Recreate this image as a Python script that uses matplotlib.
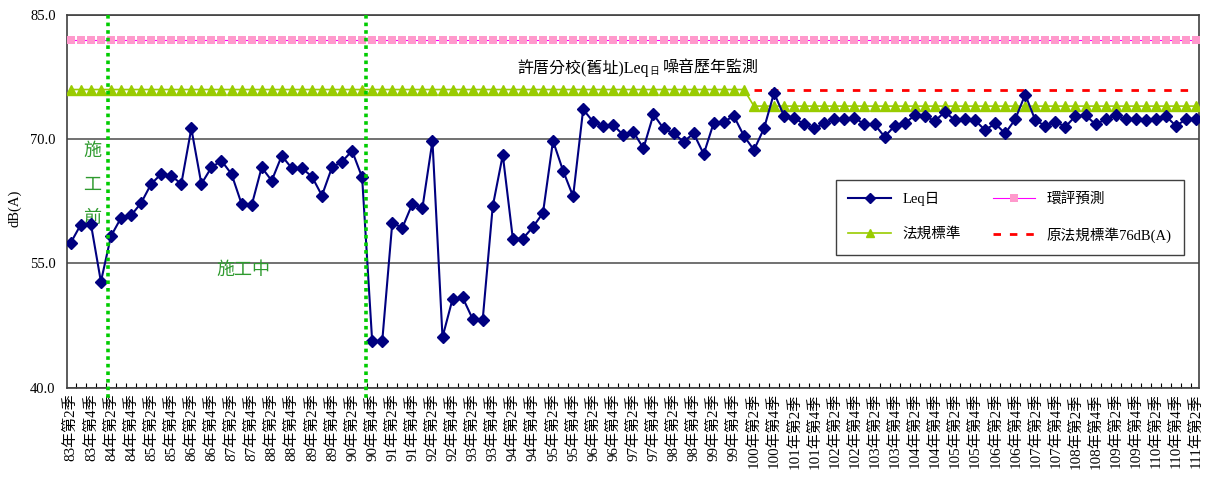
import matplotlib
matplotlib.use("Agg")
import matplotlib.pyplot as plt
from matplotlib.ticker import FixedLocator, FormatStrFormatter

plt.rcParams["font.family"] = ["Liberation Serif", "Noto Sans CJK TC"]

# quarters from 83Q2 to 111Q2
years = list(range(83, 112))
quarters = [f"{y}年第{q}季" for y in years for q in (1, 2, 3, 4)][1:-2]

leq_day = [
    57.5, 59.7, 59.8, 52.8, 58.3, 60.5, 60.8, 62.3, 64.6, 65.8,
    65.6, 64.6, 71.3, 64.6, 66.6, 67.4, 65.8, 62.2, 62.0, 66.6,
    65.0, 68.0, 66.5, 66.5, 65.5, 63.2, 66.6, 67.3, 68.6,
    65.4, 45.6, 45.6, 59.9, 59.3, 62.2, 61.7, 69.8, 46.1, 50.7,
    50.9, 48.3, 48.2, 61.9, 68.1, 58.0, 58.0, 59.4, 61.1, 69.8,
    66.2, 63.1, 73.6, 72.1, 71.6, 71.7, 70.5, 70.9, 68.9,
    73.0, 71.3, 70.7, 69.7, 70.7, 68.2, 72.0, 72.1, 72.8, 70.4,
    68.7, 71.3, 75.6, 72.8, 72.6, 71.8, 71.3, 71.9, 72.4, 72.4,
    72.6, 71.8, 71.8, 70.3, 71.6, 71.9, 72.9, 72.8,
    72.2, 73.3, 72.3, 72.4, 72.3, 71.1, 71.9, 70.7, 72.4, 75.4,
    72.3, 71.6, 72.1, 71.5, 72.8, 72.9, 71.8, 72.4, 72.9, 72.4,
    72.4, 72.3, 72.4, 72.8, 71.6, 72.4, 72.5,
]

# EIA prediction and noise standards (dB(A))
eia_level = 82.0
old_standard = 76.0
new_standard = 74.0
change_quarter = "100年第2季"   # standard lowered from here on

# construction phase markers (fractional category positions)
construction_start = 3.75
construction_mid = 29.4

# --------------------------------------------------------------------------------------
x = list(range(len(quarters)))
k = quarters.index(change_quarter)
eia = [eia_level for _ in x]
standard = [old_standard if i < k else new_standard for i in x]
old_x = x[k:]
old_std = [old_standard for _ in old_x]

fig = plt.figure(figsize=(12.07, 4.79), dpi=100)
ax = fig.add_axes([0.0553, 0.1906, 0.9381, 0.7781])

l_eia, = ax.plot(x, eia, color="#FF00FF", lw=0.8, marker="s", ms=6.4,
                 mfc="#FF99CC", mec="none", mew=0, label="環評預測", zorder=3)
l_std, = ax.plot(x, standard, color="#99CC00", lw=1.2, marker="^", ms=7.4,
                 mfc="#99CC00", mec="#99CC00", label="法規標準", zorder=3)
l_old, = ax.plot(old_x, old_std, color="#FF0000", lw=2.0, ls=(0, (2.7, 3.2)),
                 label="原法規標準76dB(A)", zorder=4)
l_leq, = ax.plot(x, leq_day, color="#000080", lw=1.5, marker="D", ms=5.9,
                 mfc="#000080", mec="#000080", label="Leq日", zorder=5)

for xv in (construction_start, construction_mid):
    ax.plot([xv, xv], [85, 38.5], color="#00CC00", lw=2.6, ls=(0, (1, 1.1)),
            clip_on=False, zorder=6)

ax.set_xlim(-0.4, len(quarters) - 0.7)
ax.set_ylim(40, 85)
ax.yaxis.set_major_locator(FixedLocator([40, 55, 70, 85]))
ax.yaxis.set_major_formatter(FormatStrFormatter("%.1f"))
ax.grid(axis="y", color="#666666", lw=1.3)
ax.set_axisbelow(True)

ax.set_xticks(x[::2])
ax.set_xticklabels(quarters[::2], rotation=90, fontsize=10.8, va="top")
ax.set_xticks([i + 0.5 for i in x[:-1]], minor=True)
ax.tick_params(axis="x", which="major", length=0, pad=4)
ax.tick_params(axis="x", which="minor", direction="in", length=3.6, width=0.8)
ax.tick_params(axis="y", length=0, pad=8, labelsize=10.5)
for s in ax.spines.values():
    s.set_color("#404040")
    s.set_linewidth(1.2)

fig.text(0.012, 0.566, "dB(A)", rotation=90, va="center", ha="center", fontsize=10.5)

green = "#2E9A2E"
for ch, yv in zip("施工前", (68.5, 64.4, 60.4)):
    ax.text(2.1, yv, ch, color=green, fontsize=13, ha="center", va="center")
ax.text(17.2, 54.2, "施工中", color=green, fontsize=13, ha="center", va="center")

# title with a small subscript 日
t1 = ax.text(44.5, 78.6, "許厝分校(舊址)Leq", fontsize=11.5, ha="left", va="center")
t2 = ax.annotate("日", xy=(1.0, 0.05), xycoords=t1, fontsize=7, ha="left", va="bottom")
ax.annotate("噪音歷年監測", xy=(1.0, 0.0), xycoords=t1, xytext=(10, 0),
            textcoords="offset points", fontsize=11.5, ha="left", va="bottom")

leg = ax.legend([l_leq, l_std, l_eia, l_old],
                [l.get_label() for l in (l_leq, l_std, l_eia, l_old)],
                ncol=2, loc="upper left", bbox_to_anchor=(0.6926, 0.5242, 0.2884, 0.1),
                bbox_transform=fig.transFigure, mode="expand", borderaxespad=0,
                fontsize=10.5, fancybox=False, framealpha=1, edgecolor="#404040",
                handlelength=2.9, labelspacing=1.4, borderpad=0.85, markerscale=0.8)
leg.get_frame().set_linewidth(1.0)

fig.savefig("out.png", dpi=100)
